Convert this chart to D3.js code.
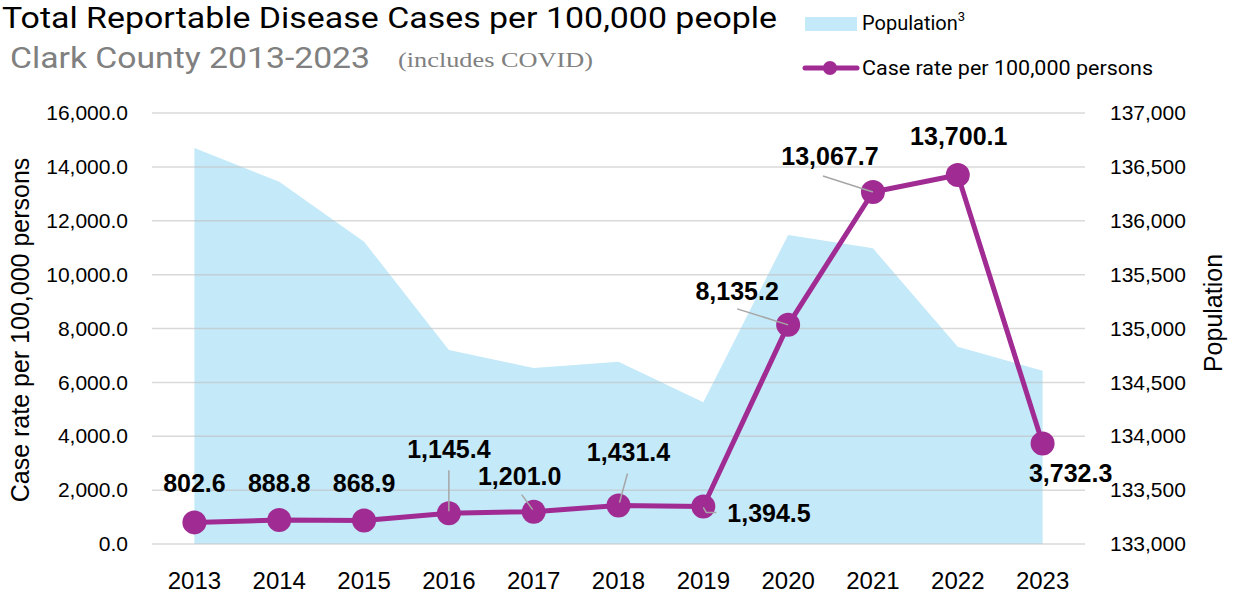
<!DOCTYPE html>
<html>
<head>
<meta charset="utf-8">
<script src="https://cdn.jsdelivr.net/npm/d3@7"></script>
<style>
  body { margin: 0; background: #fff; }
  svg { display: block; }
</style>
</head>
<body>
<svg id="chart" width="1234" height="598"></svg>
<script>
'use strict';

// chart data
var years = ['2013', '2014', '2015', '2016', '2017', '2018', '2019', '2020', '2021', '2022', '2023'];
var caseRate = [802.6, 888.8, 868.9, 1145.4, 1201.0, 1431.4, 1394.5, 8135.2, 13067.7, 13700.1, 3732.3];
var population = [136675, 136362, 135806, 134800, 134633, 134692, 134315, 135868, 135744, 134831, 134608];
var leftTicks = [0, 2000, 4000, 6000, 8000, 10000, 12000, 14000, 16000];
var rightTicks = [133000, 133500, 134000, 134500, 135000, 135500, 136000, 136500, 137000];

// label placement relative to each point (layout only)
var labelPos = [
  { dx: 0, dy: -30, anchor: 'middle' },
  { dx: 0, dy: -28, anchor: 'middle' },
  { dx: 0, dy: -29, anchor: 'middle' },
  { dx: 0, dy: -55, anchor: 'middle' },
  { dx: -14, dy: -27, anchor: 'middle' },
  { dx: 10, dy: -44, anchor: 'middle' },
  { dx: 24, dy: 16, anchor: 'start' },
  { dx: -51, dy: -25, anchor: 'middle' },
  { dx: -43, dy: -27, anchor: 'middle' },
  { dx: 1, dy: -30, anchor: 'middle' },
  { dx: 28, dy: 39, anchor: 'middle' }
];
var leaders = [
  null, null, null,
  [[0, -43], [0, -2]],
  [[-12, -17], [-1, -2]],
  [[9, -32], [1, -3]],
  [[0, 1], [3, 6], [13, 6]],
  [[-51, -16], [0, 0]],
  [[-50, -16], [0, 0]],
  null, null
];

var purple = '#a02b93';
var areaBlue = '#c4e9f9';
var axisFont = '"Liberation Sans", Arial, sans-serif';
var headFont = 'Roboto, "Noto Sans", sans-serif';

var svg = d3.select('#chart');
var plotLeft = 152, plotRight = 1085, plotTop = 113, plotBottom = 544;

var x = d3.scaleBand().domain(years).range([plotLeft, plotRight]).padding(0);
var yL = d3.scaleLinear().domain([0, 16000]).range([plotBottom, plotTop]);
var yR = d3.scaleLinear().domain([133000, 137000]).range([plotBottom, plotTop]);
function cx(i) { return x(years[i]) + x.bandwidth() / 2; }

// population area
var area = d3.area()
  .x(function(d, i) { return cx(i); })
  .y0(yR(133000))
  .y1(function(d) { return yR(d); });
svg.append('path')
  .datum(population)
  .attr('d', area)
  .attr('fill', areaBlue);

// gridlines
svg.append('g')
  .selectAll('line')
  .data(leftTicks)
  .enter().append('line')
  .attr('x1', plotLeft).attr('x2', plotRight)
  .attr('y1', function(d) { return yL(d); })
  .attr('y2', function(d) { return yL(d); })
  .attr('stroke', '#bfbfbf')
  .attr('stroke-opacity', 0.6)
  .attr('stroke-width', 1.5);

// left axis
var fmtL = d3.format(',.1f');
var gL = svg.append('g')
  .attr('transform', 'translate(' + (plotLeft - 24) + ',0)')
  .call(d3.axisLeft(yL).tickValues(leftTicks).tickFormat(fmtL).tickSize(0).tickPadding(0));
gL.select('.domain').remove();
gL.selectAll('text')
  .attr('font-family', axisFont).attr('font-size', 21).attr('fill', '#000');

// right axis
var gR = svg.append('g')
  .attr('transform', 'translate(' + (plotRight + 25) + ',0)')
  .call(d3.axisRight(yR).tickValues(rightTicks).tickFormat(d3.format(',')).tickSize(0).tickPadding(0));
gR.select('.domain').remove();
gR.selectAll('text')
  .attr('font-family', axisFont).attr('font-size', 21).attr('fill', '#000');

// x axis
var gX = svg.append('g')
  .attr('transform', 'translate(0,' + (plotBottom + 28) + ')')
  .call(d3.axisBottom(x).tickSize(0).tickPadding(0));
gX.select('.domain').remove();
gX.selectAll('text')
  .attr('dy', '0.71em')
  .attr('font-family', axisFont).attr('font-size', 24).attr('fill', '#000');

// axis titles
svg.append('text')
  .attr('transform', 'translate(29,330) rotate(-90)')
  .attr('text-anchor', 'middle')
  .attr('font-family', axisFont).attr('font-size', 25)
  .text('Case rate per 100,000 persons');
svg.append('text')
  .attr('transform', 'translate(1222,313) rotate(-90)')
  .attr('text-anchor', 'middle')
  .attr('font-family', axisFont).attr('font-size', 25)
  .text('Population');

// case rate line
var line = d3.line()
  .x(function(d, i) { return cx(i); })
  .y(function(d) { return yL(d); });
svg.append('path')
  .datum(caseRate)
  .attr('d', line)
  .attr('fill', 'none')
  .attr('stroke', purple)
  .attr('stroke-width', 5)
  .attr('stroke-linejoin', 'round');

svg.append('g')
  .selectAll('circle')
  .data(caseRate)
  .enter().append('circle')
  .attr('cx', function(d, i) { return cx(i); })
  .attr('cy', function(d) { return yL(d); })
  .attr('r', 12)
  .attr('fill', purple);

// leader lines
svg.append('g')
  .selectAll('polyline')
  .data(caseRate.map(function(d, i) { return { v: d, i: i }; }).filter(function(d) { return leaders[d.i]; }))
  .enter().append('polyline')
  .attr('points', function(d) {
    var px = cx(d.i), py = yL(d.v);
    return leaders[d.i].map(function(p) { return (px + p[0]) + ',' + (py + p[1]); }).join(' ');
  })
  .attr('fill', 'none')
  .attr('stroke', '#a6a6a6')
  .attr('stroke-width', 1.5);

// data labels
svg.append('g')
  .selectAll('text')
  .data(caseRate)
  .enter().append('text')
  .attr('x', function(d, i) { return cx(i) + labelPos[i].dx; })
  .attr('y', function(d, i) { return yL(d) + labelPos[i].dy; })
  .attr('text-anchor', function(d, i) { return labelPos[i].anchor; })
  .attr('font-family', axisFont)
  .attr('font-weight', 'bold')
  .attr('font-size', 25)
  .text(function(d) { return fmtL(d); });

// titles, stretched to the widths in the reference
function fitText(sel, width) {
  sel.attr('textLength', width).attr('lengthAdjust', 'spacingAndGlyphs');
}
var title = svg.append('text')
  .attr('x', 2).attr('y', 28)
  .attr('font-family', headFont).attr('font-size', 29).attr('fill', '#000')
  .text('Total Reportable Disease Cases per 100,000 people');
fitText(title, 775);
var sub = svg.append('text')
  .attr('x', 10).attr('y', 68)
  .attr('font-family', headFont).attr('font-size', 30).attr('fill', '#808080')
  .text('Clark County 2013-2023');
fitText(sub, 360);
var sub2 = svg.append('text')
  .attr('x', 398).attr('y', 67)
  .attr('font-family', '"Liberation Serif", "DejaVu Serif", serif').attr('font-size', 22).attr('fill', '#808080')
  .text('(includes COVID)');
fitText(sub2, 195);

// legend
var legend = svg.append('g');
legend.append('rect')
  .attr('x', 805).attr('y', 17).attr('width', 52).attr('height', 14)
  .attr('fill', areaBlue);
var popText = legend.append('text')
  .attr('x', 862).attr('y', 30)
  .attr('font-family', headFont).attr('font-size', 20).attr('fill', '#000')
  .text('Population');
popText.append('tspan')
  .attr('dy', -9).attr('font-size', 13).text('3');
legend.append('line')
  .attr('x1', 805).attr('x2', 857).attr('y1', 68).attr('y2', 68)
  .attr('stroke', purple).attr('stroke-width', 5).attr('stroke-linecap', 'round');
legend.append('circle')
  .attr('cx', 830).attr('cy', 68).attr('r', 7).attr('fill', purple);
var caseText = legend.append('text')
  .attr('x', 862).attr('y', 75)
  .attr('font-family', headFont).attr('font-size', 20).attr('fill', '#000')
  .text('Case rate per 100,000 persons');
fitText(caseText, 291);
</script>
</body>
</html>
